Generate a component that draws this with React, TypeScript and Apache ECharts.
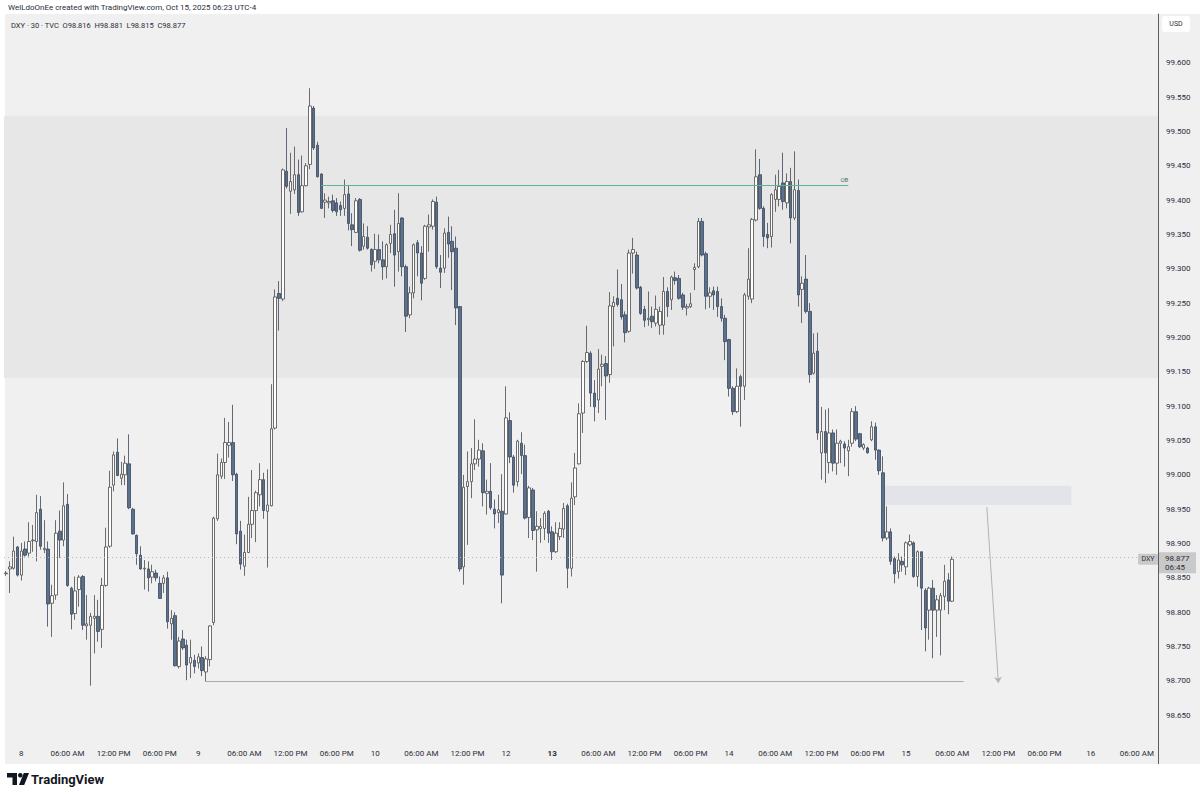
import React, { useEffect, useRef } from "react";
import * as echarts from "echarts";

// [open, high, low, close] of each 30-minute bar, DXY (TVC), Oct 7 22:00 -> Oct 15 06:00
const ohlc: [number, number, number, number][] = [
  [98.856, 98.860, 98.853, 98.857], [98.863, 98.874, 98.828, 98.866], [98.864, 98.910, 98.862, 98.889], [98.895, 98.896, 98.852, 98.854],
  [98.854, 98.901, 98.846, 98.889], [98.892, 98.903, 98.881, 98.883], [98.886, 98.931, 98.881, 98.903], [98.904, 98.927, 98.888, 98.905],
  [98.903, 98.971, 98.874, 98.945], [98.950, 98.969, 98.891, 98.896], [98.891, 98.934, 98.886, 98.893], [98.892, 98.903, 98.779, 98.812],
  [98.813, 98.840, 98.764, 98.824], [98.825, 98.934, 98.818, 98.915], [98.918, 98.948, 98.879, 98.905], [98.905, 98.989, 98.896, 98.955],
  [98.957, 98.972, 98.837, 98.839], [98.835, 98.837, 98.775, 98.797], [98.798, 98.852, 98.789, 98.831], [98.833, 98.854, 98.808, 98.851],
  [98.852, 98.854, 98.774, 98.781], [98.780, 98.825, 98.760, 98.783], [98.781, 98.799, 98.693, 98.794], [98.791, 98.825, 98.740, 98.794],
  [98.794, 98.818, 98.757, 98.772], [98.775, 98.850, 98.748, 98.839], [98.839, 98.923, 98.837, 98.895], [98.896, 99.006, 98.894, 98.982],
  [98.985, 99.034, 98.976, 99.029], [99.033, 99.053, 98.998, 98.999], [98.995, 99.019, 98.985, 99.001], [99.000, 99.028, 98.985, 99.017],
  [99.016, 99.059, 98.950, 98.952], [98.950, 98.952, 98.913, 98.914], [98.912, 98.913, 98.869, 98.885], [98.883, 98.896, 98.862, 98.863],
  [98.863, 98.876, 98.833, 98.864], [98.863, 98.874, 98.830, 98.850], [98.851, 98.869, 98.842, 98.859], [98.857, 98.862, 98.845, 98.850],
  [98.842, 98.852, 98.820, 98.820], [98.842, 98.854, 98.828, 98.850], [98.850, 98.859, 98.776, 98.786], [98.783, 98.803, 98.760, 98.791],
  [98.795, 98.800, 98.721, 98.722], [98.721, 98.764, 98.718, 98.758], [98.761, 98.774, 98.745, 98.748], [98.752, 98.760, 98.701, 98.723],
  [98.726, 98.760, 98.704, 98.734], [98.730, 98.738, 98.711, 98.721], [98.726, 98.740, 98.718, 98.735], [98.734, 98.750, 98.707, 98.715],
  [98.713, 98.736, 98.699, 98.732], [98.731, 98.781, 98.721, 98.780], [98.785, 98.939, 98.781, 98.937], [98.936, 99.031, 98.933, 99.000],
  [98.998, 99.024, 98.994, 99.018], [99.018, 99.083, 98.994, 99.047], [99.043, 99.077, 99.025, 99.047], [99.047, 99.102, 98.991, 99.000],
  [99.001, 99.003, 98.899, 98.914], [98.918, 98.933, 98.862, 98.870], [98.867, 98.913, 98.853, 98.887], [98.887, 98.968, 98.886, 98.928],
  [98.928, 99.007, 98.908, 98.948], [98.948, 98.977, 98.902, 98.974], [98.971, 99.017, 98.954, 98.993], [98.993, 99.003, 98.936, 98.948],
  [98.947, 99.008, 98.865, 98.956], [98.955, 99.132, 98.954, 99.067], [99.068, 99.270, 99.066, 99.259], [99.264, 99.282, 99.210, 99.257],
  [99.256, 99.446, 99.253, 99.444], [99.442, 99.505, 99.417, 99.420], [99.413, 99.469, 99.380, 99.427], [99.415, 99.478, 99.409, 99.437],
  [99.437, 99.459, 99.377, 99.382], [99.383, 99.465, 99.382, 99.421], [99.421, 99.454, 99.420, 99.450], [99.452, 99.563, 99.445, 99.537],
  [99.534, 99.537, 99.473, 99.476], [99.480, 99.485, 99.433, 99.434], [99.438, 99.439, 99.387, 99.388], [99.397, 99.410, 99.374, 99.400],
  [99.396, 99.405, 99.388, 99.398], [99.399, 99.408, 99.382, 99.385], [99.396, 99.403, 99.377, 99.383], [99.392, 99.398, 99.377, 99.386],
  [99.388, 99.430, 99.377, 99.408], [99.409, 99.421, 99.356, 99.366], [99.364, 99.381, 99.333, 99.357], [99.353, 99.403, 99.352, 99.399],
  [99.401, 99.403, 99.325, 99.327], [99.333, 99.366, 99.328, 99.347], [99.346, 99.362, 99.328, 99.330], [99.328, 99.330, 99.296, 99.306],
  [99.311, 99.351, 99.300, 99.328], [99.328, 99.350, 99.308, 99.313], [99.313, 99.340, 99.284, 99.303], [99.303, 99.337, 99.286, 99.335],
  [99.337, 99.364, 99.323, 99.350], [99.351, 99.386, 99.274, 99.320], [99.325, 99.410, 99.296, 99.366], [99.374, 99.375, 99.289, 99.303],
  [99.303, 99.306, 99.208, 99.231], [99.233, 99.274, 99.228, 99.265], [99.265, 99.337, 99.257, 99.335], [99.338, 99.342, 99.289, 99.323],
  [99.323, 99.333, 99.254, 99.279], [99.286, 99.364, 99.284, 99.362], [99.361, 99.379, 99.325, 99.364], [99.362, 99.401, 99.357, 99.398],
  [99.397, 99.405, 99.300, 99.303], [99.301, 99.320, 99.272, 99.295], [99.301, 99.359, 99.294, 99.352], [99.353, 99.376, 99.316, 99.336],
  [99.340, 99.362, 99.269, 99.325], [99.330, 99.347, 99.218, 99.243], [99.245, 99.246, 98.859, 98.863], [98.866, 99.000, 98.840, 98.982],
  [98.983, 99.034, 98.898, 98.990], [98.990, 99.039, 98.966, 99.016], [99.016, 99.081, 99.007, 99.023], [99.023, 99.051, 99.012, 99.036],
  [99.035, 99.046, 98.954, 98.974], [98.973, 98.993, 98.942, 98.976], [98.976, 99.017, 98.949, 98.952], [98.950, 98.964, 98.922, 98.943],
  [98.945, 98.971, 98.930, 98.949], [98.947, 99.001, 98.813, 98.854], [98.943, 99.129, 98.942, 99.083], [99.079, 99.091, 99.017, 99.026],
  [99.026, 99.029, 98.974, 98.985], [98.990, 99.051, 98.983, 99.049], [99.046, 99.062, 99.001, 99.028], [99.028, 99.044, 98.935, 98.937],
  [98.938, 98.984, 98.908, 98.981], [98.978, 98.981, 98.905, 98.919], [98.920, 98.947, 98.859, 98.925], [98.922, 98.937, 98.901, 98.925],
  [98.922, 98.947, 98.905, 98.944], [98.947, 98.949, 98.901, 98.915], [98.917, 98.925, 98.876, 98.888], [98.888, 98.931, 98.886, 98.915],
  [98.910, 98.931, 98.905, 98.922], [98.921, 98.959, 98.908, 98.951], [98.955, 98.958, 98.835, 98.864], [98.864, 98.989, 98.852, 98.966],
  [98.968, 99.032, 98.956, 99.010], [99.016, 99.104, 99.015, 99.089], [99.090, 99.167, 99.061, 99.165], [99.165, 99.217, 99.163, 99.178],
  [99.177, 99.180, 99.099, 99.119], [99.119, 99.138, 99.078, 99.099], [99.109, 99.183, 99.090, 99.154], [99.158, 99.175, 99.129, 99.161],
  [99.162, 99.173, 99.080, 99.144], [99.146, 99.266, 99.134, 99.246], [99.245, 99.260, 99.187, 99.251], [99.257, 99.299, 99.245, 99.248],
  [99.255, 99.278, 99.226, 99.230], [99.233, 99.238, 99.193, 99.207], [99.209, 99.328, 99.207, 99.323], [99.323, 99.345, 99.293, 99.328],
  [99.320, 99.325, 99.270, 99.272], [99.273, 99.275, 99.233, 99.235], [99.241, 99.246, 99.215, 99.225], [99.226, 99.267, 99.217, 99.228],
  [99.231, 99.245, 99.214, 99.223], [99.221, 99.261, 99.216, 99.241], [99.218, 99.245, 99.204, 99.238], [99.218, 99.288, 99.204, 99.267],
  [99.267, 99.273, 99.230, 99.245], [99.255, 99.290, 99.240, 99.288], [99.287, 99.296, 99.277, 99.283], [99.286, 99.291, 99.255, 99.257],
  [99.262, 99.265, 99.240, 99.244], [99.243, 99.249, 99.232, 99.245], [99.245, 99.265, 99.243, 99.249], [99.299, 99.308, 99.269, 99.302],
  [99.303, 99.374, 99.301, 99.369], [99.369, 99.374, 99.318, 99.320], [99.322, 99.325, 99.241, 99.260], [99.260, 99.273, 99.243, 99.265],
  [99.268, 99.274, 99.240, 99.262], [99.267, 99.274, 99.230, 99.245], [99.245, 99.257, 99.223, 99.228], [99.228, 99.233, 99.167, 99.194],
  [99.197, 99.198, 99.114, 99.126], [99.126, 99.129, 99.087, 99.092], [99.092, 99.155, 99.090, 99.129], [99.143, 99.146, 99.070, 99.129],
  [99.129, 99.265, 99.109, 99.262], [99.260, 99.330, 99.255, 99.285], [99.256, 99.374, 99.250, 99.372], [99.371, 99.474, 99.369, 99.434],
  [99.437, 99.460, 99.386, 99.388], [99.388, 99.391, 99.332, 99.347], [99.350, 99.367, 99.330, 99.345], [99.347, 99.410, 99.331, 99.408],
  [99.401, 99.437, 99.383, 99.415], [99.401, 99.444, 99.391, 99.420], [99.425, 99.469, 99.386, 99.398], [99.396, 99.439, 99.388, 99.427],
  [99.427, 99.447, 99.337, 99.374], [99.374, 99.471, 99.371, 99.415], [99.414, 99.430, 99.245, 99.262], [99.270, 99.289, 99.221, 99.279],
  [99.285, 99.320, 99.235, 99.238], [99.238, 99.250, 99.134, 99.146], [99.148, 99.206, 99.146, 99.177], [99.180, 99.207, 99.051, 99.061],
  [99.032, 99.099, 98.993, 99.063], [99.063, 99.095, 98.988, 99.032], [99.018, 99.097, 99.002, 99.061], [99.061, 99.066, 99.005, 99.017],
  [99.017, 99.066, 99.000, 99.046], [99.046, 99.051, 99.017, 99.049], [99.045, 99.049, 99.012, 99.039], [99.035, 99.051, 98.998, 99.041],
  [99.046, 99.097, 99.041, 99.092], [99.092, 99.100, 99.049, 99.052], [99.060, 99.061, 99.039, 99.041], [99.039, 99.046, 99.036, 99.044],
  [99.039, 99.041, 99.031, 99.032], [99.051, 99.078, 99.049, 99.070], [99.070, 99.076, 99.022, 99.036], [99.036, 99.037, 99.000, 99.006],
  [99.003, 99.027, 98.903, 98.908], [98.908, 98.954, 98.905, 98.917], [98.917, 98.922, 98.869, 98.874], [98.878, 98.881, 98.842, 98.856],
  [98.859, 98.886, 98.849, 98.876], [98.874, 98.881, 98.859, 98.869], [98.866, 98.903, 98.854, 98.901], [98.898, 98.913, 98.896, 98.903],
  [98.901, 98.903, 98.850, 98.852], [98.852, 98.890, 98.837, 98.888], [98.888, 98.888, 98.774, 98.835], [98.832, 98.835, 98.743, 98.777],
  [98.803, 98.837, 98.760, 98.835], [98.835, 98.847, 98.733, 98.803], [98.803, 98.825, 98.764, 98.818], [98.803, 98.828, 98.737, 98.824],
  [98.823, 98.869, 98.803, 98.845], [98.847, 98.857, 98.797, 98.816], [98.816, 98.881, 98.815, 98.877],
];

// time axis: total bar slots (incl. empty future slots) and tick labels at bar slots
const barSlots = 300;
const timeTickSlots = [4, 16, 28, 40, 50, 62, 74, 86, 96, 108, 120, 130, 142, 154, 166, 178, 188, 200, 212, 224, 234, 246, 258, 270, 282, 294];
const timeTickLabels = ["8", "06:00 AM", "12:00 PM", "06:00 PM", "9", "06:00 AM", "12:00 PM", "06:00 PM", "10", "06:00 AM", "12:00 PM", "12", "13", "06:00 AM", "12:00 PM", "06:00 PM", "14", "06:00 AM", "12:00 PM", "06:00 PM", "15", "06:00 AM", "12:00 PM", "06:00 PM", "16", "06:00 AM"];
const boldTickLabels = ["13"];

// price axis
const priceTicks = [99.6, 99.55, 99.5, 99.45, 99.4, 99.35, 99.3, 99.25, 99.2, 99.15, 99.1, 99.05, 99.0, 98.95, 98.9, 98.85, 98.8, 98.75, 98.7, 98.65];
const priceMin = 98.611;
const priceMax = 99.671;

// drawings
const zoneBand = [99.523, 99.141];
const obLine = { from: 82, to: 219, price: 99.4213, label: "OB" };
const lowLine = { from: 52, to: 249, price: 98.699 };
const fvgBox = { from: 228, to: 277, top: 98.984, bottom: 98.956 };
const arrowLine = { from: 255, fromPrice: 98.953, to: 258, toPrice: 98.697 };
const lastPrice = 98.877;
const countdown = "06:45";
const symbol = "DXY";
const headerLine = "WelLdoOnEe created with TradingView.com, Oct 15, 2025 06:23 UTC-4";
const legendLine = "DXY · 30 · TVC";
const legendOHLC = ["O98.816", "H98.881", "L98.815", "C98.877"];

const FONT = "Roboto, 'Liberation Sans', Arial, sans-serif";
const OB_GREEN = "#5fb592";

export default function App() {
  const ref = useRef<HTMLDivElement>(null);

  useEffect(() => {
    if (!ref.current) return;
    const chart = echarts.init(ref.current, undefined, { renderer: "svg" });

    const categories = Array.from({ length: barSlots }, (_, i) => String(i));
    const tickMap: Record<number, string> = {};
    timeTickSlots.forEach((s, i) => (tickMap[s] = timeTickLabels[i]));

    const option: any = {
      animation: false,
      backgroundColor: "#f0f0f0",
      textStyle: { fontFamily: FONT },
      grid: { left: 4, right: 42, top: 14, bottom: 55, show: false },
      xAxis: {
        type: "category",
        data: categories,
        boundaryGap: true,
        axisLine: { show: false },
        axisTick: { show: false },
        splitLine: { show: false },
        axisLabel: {
          interval: (i: number) => tickMap[i] !== undefined,
          formatter: (_v: string, i: number) => {
            const t = tickMap[i] ?? "";
            return boldTickLabels.includes(t) ? `{b|${t}}` : t;
          },
          color: "#2a2e39",
          fontSize: 8,
          margin: 7,
          rich: { b: { fontWeight: "bold", fontSize: 8, color: "#2a2e39" } },
        },
      },
      yAxis: {
        type: "value",
        position: "right",
        min: priceMin,
        max: priceMax,
        axisLine: { show: true, lineStyle: { color: "#5d5d5d", width: 1 } },
        axisTick: { show: false },
        splitLine: { show: false },
        axisLabel: {
          customValues: priceTicks,
          formatter: (v: number) => v.toFixed(3),
          color: "#2a2e39",
          fontSize: 8,
          margin: 8,
        },
      },
      series: [
        {
          type: "candlestick",
          data: ohlc.map(([o, h, l, c]) => [o, c, l, h]),
          barWidth: 3,
          itemStyle: {
            color: "#ffffff",
            color0: "#5b7191",
            borderColor: "#4a4a4a",
            borderColor0: "#3b4658",
            borderWidth: 0.8,
          },
          markArea: {
            silent: true,
            data: [
              [{ yAxis: zoneBand[0], itemStyle: { color: "#e7e7e7" } }, { yAxis: zoneBand[1] }],
              [
                { coord: [fvgBox.from, fvgBox.top], itemStyle: { color: "#e2e4e9" } },
                { coord: [fvgBox.to, fvgBox.bottom] },
              ],
            ],
          },
          markLine: {
            silent: true,
            symbol: ["none", "none"],
            data: [
              [
                {
                  coord: [arrowLine.from, arrowLine.fromPrice],
                  lineStyle: { color: "#b4b4b4", width: 1, type: "solid" },
                  label: { show: false },
                  symbol: "none",
                },
                { coord: [arrowLine.to, arrowLine.toPrice], symbol: "arrow", symbolSize: [6, 6] },
              ],
              {
                yAxis: lastPrice,
                lineStyle: { color: "#b9b9b9", width: 1, type: [1, 3] },
                label: { show: false },
              },
            ],
          },
        },
        {
          type: "line",
          name: "OB",
          data: [
            [obLine.from, obLine.price],
            [obLine.to, obLine.price],
          ],
          symbol: "none",
          silent: true,
          z: 5,
          lineStyle: { color: OB_GREEN, width: 1 },
          itemStyle: { color: OB_GREEN },
          markPoint: {
            silent: true,
            symbol: "rect",
            symbolSize: 1,
            itemStyle: { color: "rgba(0,0,0,0)" },
            data: [
              {
                coord: [obLine.to, obLine.price],
                label: {
                  show: true,
                  formatter: obLine.label,
                  position: "top",
                  align: "right",
                  distance: 2,
                  color: "#4b6f61",
                  fontSize: 6,
                },
              },
            ],
          },
        },
        {
          type: "line",
          name: "low",
          data: [
            [lowLine.from, lowLine.price],
            [lowLine.to, lowLine.price],
          ],
          symbol: "none",
          silent: true,
          z: 5,
          lineStyle: { color: "#a9a9a9", width: 1 },
          itemStyle: { color: "#a9a9a9" },
        },
      ],
    };
    chart.setOption(option);

    const lastIdx = ohlc.length - 1;
    const [, py] = chart.convertToPixel({ seriesIndex: 0 }, [lastIdx, lastPrice]) as number[];
    const axisX = 1158;

    chart.setOption({
      graphic: [
        // white frame around the chart
        { type: "rect", shape: { x: 0, y: 0, width: 1200, height: 14 }, style: { fill: "#ffffff" }, silent: true },
        { type: "rect", shape: { x: 0, y: 0, width: 5, height: 797 }, style: { fill: "#ffffff" }, silent: true },
        { type: "rect", shape: { x: 0, y: 764, width: 1200, height: 33 }, style: { fill: "#ffffff" }, silent: true },
        { type: "line", shape: { x1: axisX + 0.5, y1: 742, x2: axisX + 0.5, y2: 764 }, style: { stroke: "#5d5d5d", lineWidth: 1 } },
        { type: "text", x: 8, y: 3, style: { text: headerLine, font: `8px ${FONT}`, fill: "#2a2e39" } },
        { type: "text", x: 11, y: 21, style: { text: legendLine + "  " + legendOHLC.join("  "), font: `7.5px ${FONT}`, fill: "#2a2e39" } },
        { type: "rect", shape: { x: 1162, y: 16, width: 28, height: 16, r: 3 }, style: { fill: "#ffffff" } },
        { type: "text", x: 1176, y: 24, style: { text: "USD", font: `7px ${FONT}`, fill: "#2a2e39", align: "center", verticalAlign: "middle" } },
        // last price labels
        { type: "rect", shape: { x: 1138, y: py - 5.5, width: 20, height: 11, r: 1 }, style: { fill: "#c9c9c9" } },
        { type: "text", x: 1148, y: py, style: { text: symbol, font: `7px ${FONT}`, fill: "#2a2e39", align: "center", verticalAlign: "middle" } },
        { type: "rect", shape: { x: axisX + 1, y: py - 7, width: 37, height: 21 }, style: { fill: "#c9c9c9" } },
        { type: "text", x: 1165, y: py - 1, style: { text: lastPrice.toFixed(3), font: `8px ${FONT}`, fill: "#2a2e39", verticalAlign: "middle" } },
        { type: "text", x: 1165, y: py + 8, style: { text: countdown, font: `8px ${FONT}`, fill: "#2a2e39", verticalAlign: "middle" } },
        // TradingView logo
        { type: "polygon", shape: { points: [[7, 773], [17, 773], [17, 785], [12.5, 785], [12.5, 777.5], [7, 777.5]] }, style: { fill: "#131722" } },
        { type: "circle", shape: { cx: 20.3, cy: 775.3, r: 2.3 }, style: { fill: "#131722" } },
        { type: "polygon", shape: { points: [[23.8, 773], [29, 773], [24.2, 785], [19, 785]] }, style: { fill: "#131722" } },
        { type: "text", x: 31, y: 779, style: { text: "TradingView", font: `bold 13px ${FONT}`, fill: "#131722", verticalAlign: "middle" } },
      ],
    });

    return () => chart.dispose();
  }, []);

  return (
    <div
      ref={ref}
      style={{ position: "fixed", left: 0, top: 0, width: 1200, height: 797, background: "#ffffff" }}
    />
  );
}
